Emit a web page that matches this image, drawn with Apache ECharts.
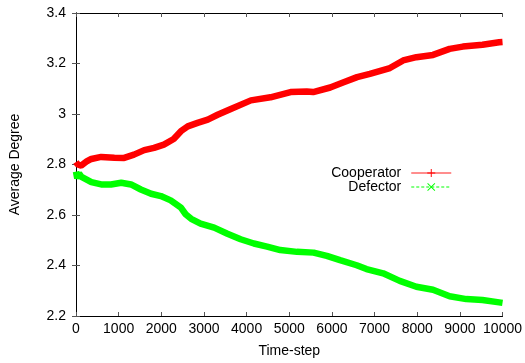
<!DOCTYPE html>
<html>
<head>
<meta charset="utf-8">
<script src="https://cdn.jsdelivr.net/npm/echarts@6/dist/echarts.min.js"></script>
<style>
  html, body { margin: 0; padding: 0; background: #fff; }
  #chart { width: 525px; height: 363px; }
</style>
</head>
<body>
<div id="chart"></div>
<script>
// Average degree of cooperators and defectors over time
const coopSteps = [0, 40, 120, 250, 360, 590, 900, 1130, 1360, 1600, 1830, 2060, 2290, 2460, 2620, 2850, 3090, 3320, 3630, 4100, 4560, 5030, 5410, 5560, 5960, 6260, 6590, 6890, 7360, 7670, 7980, 8370, 8760, 9070, 9530, 9920, 10000];
const coopValues = [2.810, 2.800, 2.796, 2.812, 2.822, 2.830, 2.827, 2.826, 2.839, 2.857, 2.866, 2.879, 2.901, 2.932, 2.951, 2.965, 2.978, 2.997, 3.020, 3.054, 3.066, 3.087, 3.089, 3.087, 3.105, 3.125, 3.146, 3.159, 3.182, 3.212, 3.225, 3.234, 3.258, 3.267, 3.274, 3.284, 3.285];

const defSteps = [0, 30, 70, 130, 360, 590, 820, 1060, 1290, 1520, 1760, 1990, 2220, 2460, 2570, 2700, 2920, 3240, 3550, 3860, 4170, 4480, 4790, 5180, 5570, 5880, 6190, 6580, 6810, 7200, 7590, 7980, 8370, 8760, 9150, 9530, 9920, 10000];
const defValues = [2.772, 2.745, 2.765, 2.751, 2.730, 2.721, 2.721, 2.728, 2.721, 2.701, 2.684, 2.675, 2.658, 2.629, 2.603, 2.585, 2.566, 2.550, 2.526, 2.504, 2.487, 2.475, 2.461, 2.454, 2.451, 2.438, 2.421, 2.401, 2.386, 2.369, 2.339, 2.316, 2.304, 2.278, 2.267, 2.263, 2.254, 2.252];

const seriesNames = ['Cooperator', 'Defector'];
const xLabel = 'Time-step';
const yLabel = 'Average Degree';

const FONT = "'Liberation Sans', Arial, Helvetica, sans-serif";
const PLUS = 'path://M4.4,0H5.6V4.4H10V5.6H5.6V10H4.4V5.6H0V4.4H4.4Z';
const CROSS = 'path://M0.8,0L5,4.2L9.2,0L10,0.8L5.8,5L10,9.2L9.2,10L5,5.8L0.8,10L0,9.2L4.2,5L0,0.8Z';

const pairs = (xs, ys) => xs.map((x, i) => [x, ys[i]]);

const chart = echarts.init(document.getElementById('chart'), null, { renderer: 'canvas' });

const tickStyle = { show: true, inside: true, length: 4, lineStyle: { color: '#555', width: 1 } };
const lineStyle = { show: true, lineStyle: { color: '#000', width: 1 } };
const textStyle = { fontFamily: FONT, fontSize: 14, color: '#000' };

chart.setOption({
  animation: false,
  backgroundColor: '#fff',
  grid: { left: 75, right: 22, top: 13, bottom: 46, containLabel: false },
  legend: {
    orient: 'vertical',
    align: 'right',
    right: 73,
    top: 166,
    padding: 0,
    itemWidth: 40,
    itemHeight: 10,
    itemGap: 0,
    textStyle: Object.assign({ lineHeight: 14, padding: [0, 5, 0, 0] }, textStyle),
    data: [
      { name: seriesNames[0], lineStyle: { width: 1.5, type: 'solid', opacity: 0.6 } },
      { name: seriesNames[1], lineStyle: { width: 1, type: [3, 2] } }
    ]
  },
  xAxis: [
    {
      type: 'value', min: 0, max: 10000, interval: 1000,
      name: xLabel, nameLocation: 'middle', nameGap: 28,
      nameTextStyle: textStyle,
      axisLine: lineStyle, axisTick: tickStyle,
      axisLabel: Object.assign({ margin: 6, formatter: v => String(v) }, textStyle),
      splitLine: { show: false }
    },
    {
      type: 'value', position: 'top', min: 0, max: 10000, interval: 1000,
      axisLine: lineStyle, axisTick: tickStyle, axisLabel: { show: false }, splitLine: { show: false }
    }
  ],
  yAxis: [
    {
      type: 'value', min: 2.2, max: 3.4, interval: 0.2,
      name: yLabel, nameLocation: 'middle', nameGap: 54,
      nameTextStyle: textStyle,
      axisLine: lineStyle, axisTick: tickStyle,
      axisLabel: Object.assign({ margin: 10 }, textStyle),
      splitLine: { show: false }
    },
    {
      type: 'value', position: 'right', min: 2.2, max: 3.4, interval: 0.2,
      axisLine: lineStyle, axisTick: tickStyle, axisLabel: { show: false }, splitLine: { show: false }
    }
  ],
  series: [
    {
      name: seriesNames[0], type: 'line', xAxisIndex: 0, yAxisIndex: 0,
      data: pairs(coopSteps, coopValues),
      symbol: PLUS, showSymbol: false,
      color: '#ff0000',
      lineStyle: { color: '#ff0000', width: 6.5, join: 'bevel' },
      itemStyle: { color: '#ff0000' },
      z: 3
    },
    {
      name: seriesNames[1], type: 'line', xAxisIndex: 0, yAxisIndex: 0,
      data: pairs(defSteps, defValues),
      symbol: CROSS, showSymbol: false,
      color: '#00ff00',
      lineStyle: { color: '#00ff00', width: 6.5, join: 'bevel' },
      itemStyle: { color: '#00ff00' },
      z: 2
    }
  ]
});
</script>
</body>
</html>
